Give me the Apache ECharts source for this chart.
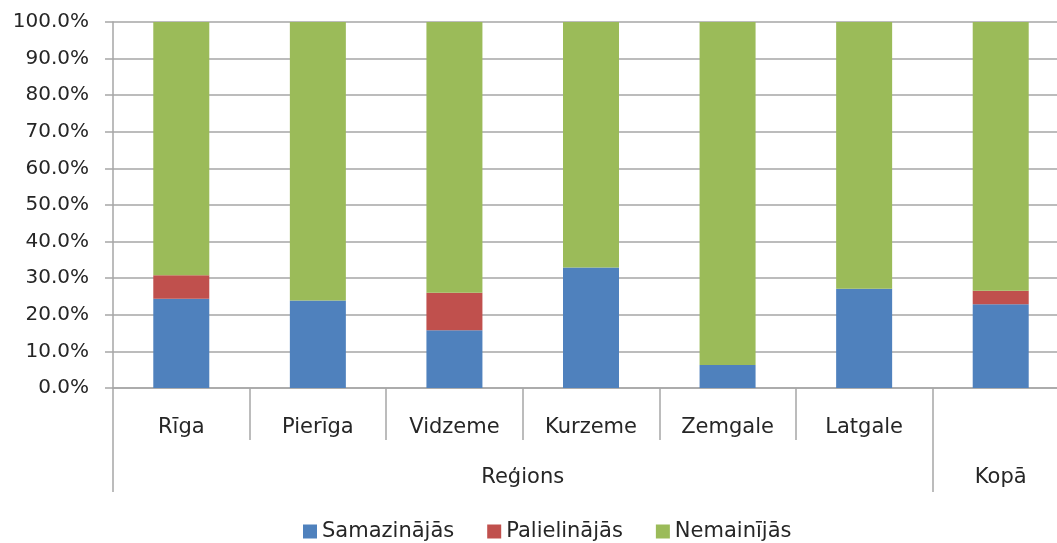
<!DOCTYPE html>
<html>
<head>
<meta charset="utf-8">
<script src="https://cdn.jsdelivr.net/npm/echarts@6/dist/echarts.min.js"></script>
<style>
  html, body { margin: 0; padding: 0; background: #fff; }
  #chart { width: 1057px; height: 543px; }
</style>
</head>
<body>
<div id="chart"></div>
<script>
// regions (sub level) and their groups (top level)
const categories = ['Rīga', 'Pierīga', 'Vidzeme', 'Kurzeme', 'Zemgale', 'Latgale', '']
const groupNames = ['Reģions', 'Kopā']
const groupSizes = [6, 1]

// shares, % of total
const samazinajas = [24.4, 23.9, 15.8, 32.9, 6.3, 27.1, 22.9]
const palielinajas = [6.4, 0, 10.2, 0, 0, 0, 3.7]
const nemainijas = [69.2, 76.1, 74.0, 67.1, 93.7, 72.9, 73.4]

const yTicks = [0, 10, 20, 30, 40, 50, 60, 70, 80, 90, 100]

const gridColor = '#a6a6a6'
const textColor = '#262626'
const font = 'DejaVu Sans'

// group boundaries and centres on the 0..n scale of the second axis
const groupEdges = [0]
const groupCentres = []
groupSizes.forEach((s, i) => {
  groupCentres.push(groupEdges[i] + s / 2)
  groupEdges.push(groupEdges[i] + s)
})

const chart = echarts.init(document.getElementById('chart'))

const barSeries = (name, data, color) => ({
  name,
  type: 'bar',
  stack: 'total',
  data,
  barWidth: 56,
  itemStyle: { color },
  emphasis: { disabled: true }
})

chart.setOption({
  animation: false,
  textStyle: { fontFamily: font },
  // plot runs a bit past the right edge, as in the original
  grid: { left: 113, width: 956, top: 22, bottom: 155, outerBoundsMode: 'none' },
  legend: {
    top: 516,
    left: 298,
    icon: 'rect',
    itemWidth: 14,
    itemHeight: 14,
    itemGap: 33,
    textStyle: { fontFamily: font, fontSize: 21, color: textColor },
    data: ['Samazinājās', 'Palielinājās', 'Nemainījās']
  },
  xAxis: [
    {
      type: 'category',
      data: categories,
      axisLine: { lineStyle: { color: gridColor, width: 1.5 } },
      axisTick: { show: true, length: 52, lineStyle: { color: gridColor, width: 1.5 } },
      axisLabel: { interval: 0, margin: 29, fontSize: 21, color: textColor, fontFamily: font }
    },
    {
      type: 'value',
      min: 0,
      max: categories.length,
      position: 'bottom',
      offset: 52,
      axisLine: { show: false },
      splitLine: { show: false },
      axisTick: {
        show: true,
        length: 52,
        customValues: groupEdges.slice(0, -1),
        lineStyle: { color: gridColor, width: 1.5 }
      },
      axisLabel: {
        customValues: groupCentres,
        margin: 27,
        fontSize: 21,
        color: textColor,
        fontFamily: font,
        formatter: v => groupNames[groupCentres.indexOf(v)] || ''
      }
    }
  ],
  yAxis: {
    type: 'value',
    min: yTicks[0],
    max: yTicks[yTicks.length - 1],
    interval: 10,
    axisLine: { show: true, lineStyle: { color: gridColor, width: 1.5 } },
    axisTick: { show: true, length: 8, lineStyle: { color: gridColor, width: 1.5 } },
    splitLine: { lineStyle: { color: gridColor, width: 1.5 } },
    axisLabel: {
      margin: 24,
      fontSize: 20,
      color: textColor,
      fontFamily: font,
      formatter: v => v.toFixed(1) + '%'
    }
  },
  series: [
    barSeries('Samazinājās', samazinajas, '#4f81bd'),
    barSeries('Palielinājās', palielinajas, '#c0504d'),
    barSeries('Nemainījās', nemainijas, '#9bbb59')
  ]
})
</script>
</body>
</html>
